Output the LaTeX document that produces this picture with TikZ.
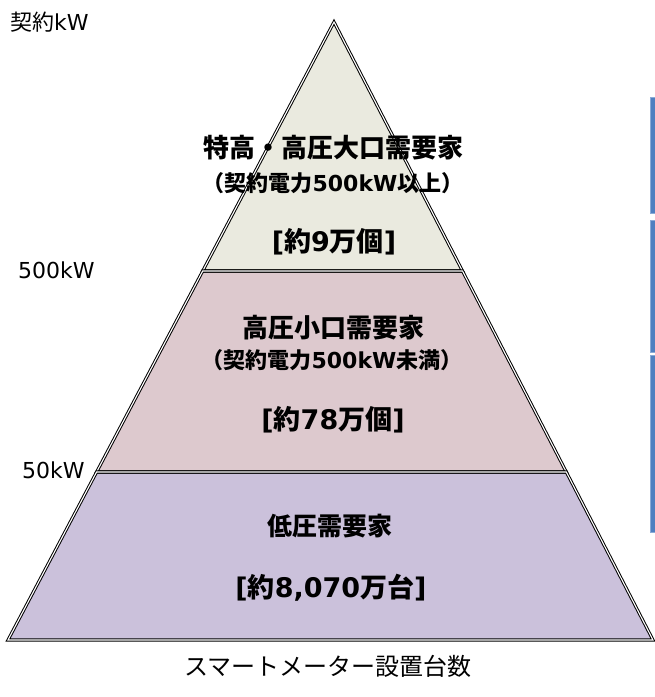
\documentclass[tikz,border=0pt]{standalone}
\usepackage{fontspec}
\newfontfamily\jpf{Noto Sans CJK JP}
\newfontfamily\latf{DejaVu Sans}
\definecolor{topc}{HTML}{EAEADF}
\definecolor{midc}{HTML}{DDC9CE}
\definecolor{lowc}{HTML}{CBC1DB}
\definecolor{barc}{HTML}{4F7FC0}
\definecolor{baredge}{HTML}{8AAAD6}
\tikzset{
  dbl/.style={draw=black, line width=1pt, double=white, double distance=1.1pt, line join=miter},
  big/.style={font=\bfseries\fontsize{26}{30}\selectfont, inner sep=0pt},
  cnt/.style={font=\bfseries\fontsize{27}{30}\selectfont, inner sep=0pt},
  small/.style={font=\bfseries\fontsize{22}{26}\selectfont, inner sep=0pt},
  axis/.style={font=\fontsize{22}{25}\selectfont, inner sep=0pt, anchor=west},
  bar/.style={fill=barc, draw=baredge, line width=0.6pt}
}
\begin{document}
\begin{tikzpicture}[x=1pt,y=-1pt]
\useasboundingbox (0,0) rectangle (655,697);
% pyramid corners
\coordinate (A) at (334,22);
\coordinate (L1) at (202.7,271);
\coordinate (R1) at (462.5,271);
\coordinate (L2) at (96.6,472);
\coordinate (R2) at (566.3,472);
\coordinate (BL) at (8,640);
\coordinate (BR) at (653,640);
% fills
\fill[topc] (A) -- (R1) -- (L1) -- cycle;
\fill[midc] (L1) -- (R1) -- (R2) -- (L2) -- cycle;
\fill[lowc] (L2) -- (R2) -- (BR) -- (BL) -- cycle;
% outlines
\path[dbl] (A) -- (R1) -- (L1) -- cycle;
\path[dbl] (L1) -- (R1) -- (R2) -- (L2) -- cycle;
\path[dbl] (L2) -- (R2) -- (BR) -- (BL) -- cycle;
% blue bars
\fill[bar] (650,97) rectangle (660,213);
\fill[bar] (650,220) rectangle (660,352);
\fill[bar] (650,355) rectangle (660,532);
% texts top
\node[big] (t1) at (333,148) {\jpf 特高・高圧大口需要家};
\node[small] (t2) at (333,183) {\jpf （契約電力\latf 500kW\jpf 以上）};
\node[cnt] (t3) at (334,242) {\latf [\jpf 約\latf 9\jpf 万個\latf ]};
% middle
\node[big] (m1) at (333,328) {\jpf 高圧小口需要家};
\node[small] (m2) at (332,360) {\jpf （契約電力\latf 500kW\jpf 未満）};
\node[cnt] (m3) at (333,420) {\latf [\jpf 約\latf 78\jpf 万個\latf ]};
% bottom
\node[big, font=\bfseries\fontsize{25}{30}\selectfont] (b1) at (330,526) {\jpf 低圧需要家};
\node[cnt] (b2) at (331,588) {\latf [\jpf 約\latf 8,070\jpf 万台\latf ]};
% axis labels
\node[axis] (k0) at (10,22) {\jpf 契約\latf kW};
\node[axis] (k1) at (18,270) {\latf 500kW};
\node[axis] (k2) at (22,470) {\latf 50kW};
\node[font=\fontsize{24}{28}\selectfont, inner sep=0pt] (xl) at (328,666) {\jpf スマートメーター設置台数};
\end{tikzpicture}
\end{document}
